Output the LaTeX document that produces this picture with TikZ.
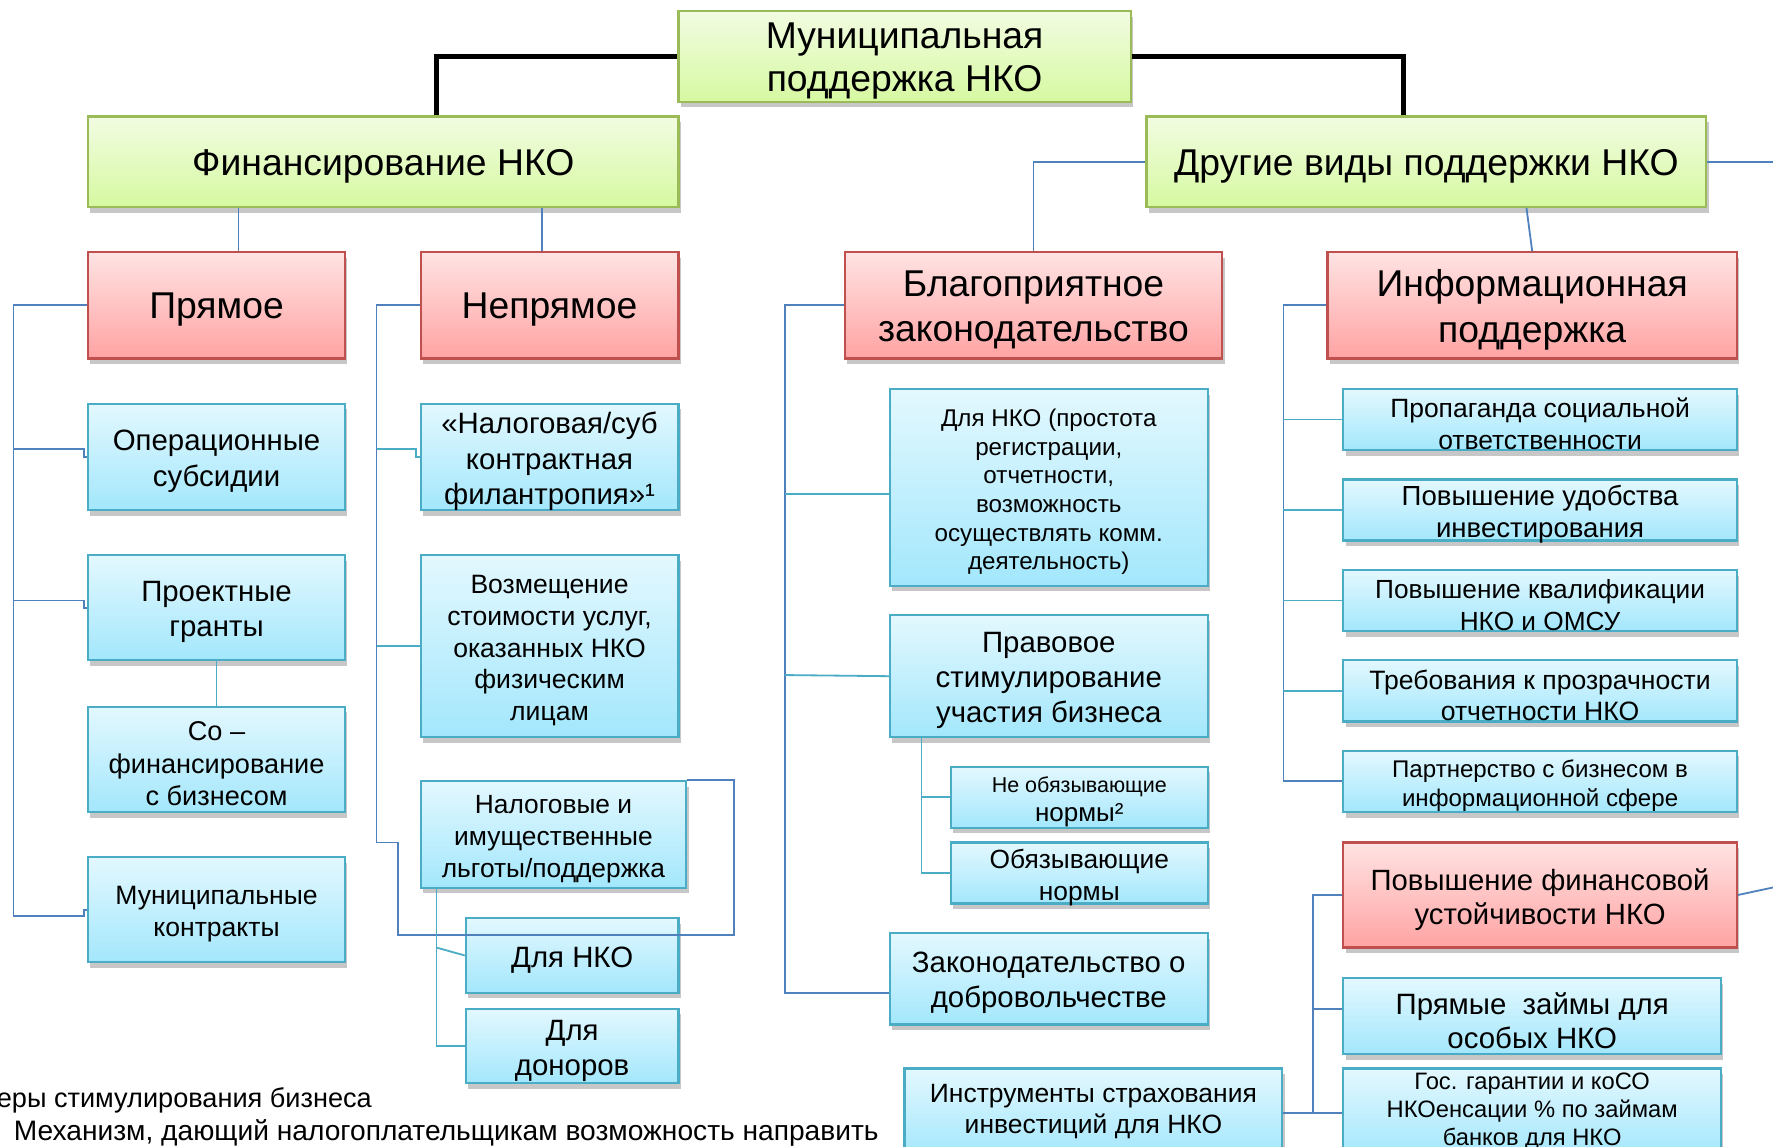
\documentclass[tikz,border=0pt]{standalone}
\usepackage{fontspec}
\setmainfont{Liberation Sans}
\usetikzlibrary{shadows}
\definecolor{gtop}{HTML}{F2FCE2}
\definecolor{gbot}{HTML}{D6F9A1}
\definecolor{gdr}{HTML}{9BBB59}
\definecolor{rtop}{HTML}{FFE3E3}
\definecolor{rbot}{HTML}{FFA3A3}
\definecolor{rdr}{HTML}{C0504D}
\definecolor{btop}{HTML}{E3F8FE}
\definecolor{bbot}{HTML}{A3E7FC}
\definecolor{bdr}{HTML}{4BACC6}
\definecolor{lnb}{HTML}{4F81BD}
\definecolor{lnt}{HTML}{4BACC6}
\newcommand\fz[2]{\fontsize{#1}{#2}\selectfont}
\tikzset{
  shd/.style={drop shadow={shadow xshift=2pt,shadow yshift=-5pt,fill=black,opacity=0.22}},
  basebox/.style={shd,inner sep=0pt,line width=2pt},
  gbox/.style={basebox,draw=gdr,top color=gtop,bottom color=gbot},
  rbox/.style={basebox,draw=rdr,top color=rtop,bottom color=rbot},
  bbox/.style={basebox,draw=bdr,top color=btop,bottom color=bbot},
  txt/.style={align=center,inner sep=0pt},
  blk/.style={line width=4pt,black},
  cb/.style={line width=1.6pt,lnb},
  ct/.style={line width=1.6pt,lnt},
}
% box node (name) plus its text node (name t), text centred 4pt lower
\newcommand\bx[8]{%
  \node[#1,minimum width=#5,minimum height=#6] (#2) at (#3,#4) {};
  \node[txt,font=#7] (#2t) at (#3,#4+4) {#8};}
\begin{document}
\begin{tikzpicture}[x=1pt,y=-1pt]
\useasboundingbox (0,0) rectangle (1568,1014);
\clip (0,0) rectangle (1568,1014);
% level 0-1
\bx{gbox}{top}{800}{50}{400}{80}{\fz{33}{38}}{Муниципальная\\поддержка НКО}
\bx{gbox}{fin}{339}{143}{522}{80}{\fz{33}{38}}{Финансирование НКО}
\bx{gbox}{oth}{1261.5}{143}{495}{80}{\fz{33}{38}}{Другие виды поддержки НКО}
% red level
\bx{rbox}{pr}{191.5}{270}{227}{94}{\fz{33}{40}}{Прямое}
\bx{rbox}{np}{486}{270}{228}{94}{\fz{33}{40}}{Непрямое}
\bx{rbox}{bl}{914}{270}{334}{94}{\fz{33}{40}}{Благоприятное\\законодательство}
\bx{rbox}{inf}{1355}{270}{362}{94}{\fz{33}{40}}{Информационная\\поддержка}
% direct column
\bx{bbox}{op}{191.5}{404}{227}{94}{\fz{26}{32}}{Операционные\\субсидии}
\bx{bbox}{pg}{191.5}{537.5}{227}{93}{\fz{26}{31}}{Проектные\\гранты}
\bx{bbox}{co}{191.5}{671.5}{227}{93}{\fz{24}{29}}{Со –\\финансирование\\с бизнесом}
\bx{bbox}{mk}{191.5}{804.5}{227}{93}{\fz{23.5}{28}}{Муниципальные\\контракты}
% indirect column
\bx{bbox}{nf}{486}{404}{228}{94}{\fz{26}{31.5}}{«Налоговая/суб\\контрактная\\филантропия»¹}
\bx{bbox}{vz}{486}{571.5}{228}{161}{\fz{23.5}{28}}{Возмещение\\стоимости услуг,\\оказанных НКО\\физическим\\лицам}
\bx{bbox}{nl}{489.5}{738}{235}{94}{\fz{23.3}{28.5}}{Налоговые и\\имущественные\\льготы/поддержка}
\bx{bbox}{dn}{506}{845}{188}{66}{\fz{26}{31}}{Для НКО}
\bx{bbox}{dd}{506}{925}{188}{66}{\fz{26}{31}}{Для\\доноров}
% legislation column
\bx{bbox}{dnk}{927.5}{431}{281}{174}{\fz{21.4}{25.4}}{Для НКО (простота\\регистрации,\\отчетности,\\возможность\\осуществлять комм.\\деятельность)}
\bx{bbox}{ps}{927.5}{598}{281}{108}{\fz{26}{31}}{Правовое\\стимулирование\\участия бизнеса}
\bx{bbox}{ne}{954.5}{705}{227}{54}{\fz{19}{26}}{Не обязывающие\\{\fz{23}{26}нормы²}}
\bx{bbox}{ob}{954.5}{772}{227}{54}{\fz{23.3}{28}}{Обязывающие\\нормы}
\bx{bbox}{zd}{927.5}{865.5}{281}{81}{\fz{26}{31}}{Законодательство о\\добровольчестве}
% info column
\bx{bbox}{i1}{1362}{371}{348}{54}{\fz{23.4}{28}}{Пропаганда социальной\\ответственности}
\bx{bbox}{i2}{1362}{451}{348}{54}{\fz{24.4}{28}}{Повышение удобства\\инвестирования}
\bx{bbox}{i3}{1362}{531}{348}{54}{\fz{23.2}{28}}{Повышение квалификации\\НКО и ОМСУ}
\bx{bbox}{i4}{1362}{611}{348}{54}{\fz{23.5}{28}}{Требования к прозрачности\\отчетности НКО}
\bx{bbox}{i5}{1362}{691}{348}{54}{\fz{21.3}{26}}{Партнерство с бизнесом в\\информационной сфере}
% financial sustainability
\bx{rbox}{pf}{1362}{791.5}{348}{93}{\fz{25.9}{30}}{Повышение финансовой\\устойчивости НКО}
\bx{bbox}{pz}{1355}{898.5}{334}{67}{\fz{26}{30}}{Прямые\ \ займы для\\особых НКО}
\node[bbox,minimum width=334,minimum height=78] (gg) at (1355,984) {};
\node[txt,font=\fz{21}{25}] (ggt) at (1355,983) {Гос. гарантии и коСО\\НКОенсации \% по займам\\банков для НКО};
\node[bbox,minimum width=334,minimum height=78] (is) at (967,984) {};
\node[txt,font=\fz{23.4}{28}] (ist) at (967,983) {Инструменты страхования\\инвестиций для НКО};
% footnotes
\node[anchor=west,inner sep=0pt,font=\fz{24}{28}] (fn1) at (-3,973) {еры стимулирования бизнеса};
\node[anchor=west,inner sep=0pt,font=\fz{24.9}{28}] (fn2) at (12,1002) {Механизм, дающий налогоплательщикам возможность направить};
% coordinates for free ends
\coordinate (offA) at (1600,143);
\coordinate (offB) at (1600,778);
% black connectors
\draw[blk] (top.west) -| (fin.north -| 386,0);
\draw[blk] (top.east) -| (oth.north -| 1241,0);
% blue connectors level 1
\draw[cb] (fin.south -| 211,0) -- (pr.north -| 211,0);
\draw[cb] (fin.south -| 479,0) -- (np.north -| 479,0);
\draw[cb] (oth.west) -| (bl.north);
\draw[cb] (oth.south -| 1350,0) -- (inf.north -| 1355,0);
\draw[cb] (oth.east) -- (offA);
\draw[cb] (pf.east) -- (offB);
% direct
\draw[cb] (pr.west) -| (12,810) -- (74,810) |- (mk.west);
\draw[cb] (12,397) -- (74,397) |- (op.west);
\draw[cb] (12,531) -- (74,531) |- (pg.west);
\draw[ct] (pg.south) -- (co.north);
% indirect
\draw[cb] (np.west) -| (333,745) -- (352,745) |- (649,827) |- (nl.north east);
\draw[ct] (333,397) -- (368,397) |- (nf.west);
\draw[ct] (333,571) -- (368,571) |- (vz.west);
\draw[ct] (nl.south -| 386,0) |- (dd.west);
\draw[ct] (386,838) -- (dn.west);
% legislation
\draw[cb] (bl.west) -| (694,878) -- (zd.west |- 0,878);
\draw[ct] (694,437) -- (dnk.west |- 0,437);
\draw[ct] (694,597) -- (ps.west);
\draw[ct] (ps.south -| 815,0) |- (ob.west);
\draw[ct] (815,705) -- (ne.west);
% info
\draw[cb] (inf.west) -| (1135,691) -- (i5.west);
\draw[ct] (1135,371) -- (i1.west);
\draw[ct] (1135,451) -- (i2.west);
\draw[ct] (1135,531) -- (i3.west);
\draw[ct] (1135,611) -- (i4.west);
% financial
\draw[cb] (pf.west) -| (1161,984) -- (gg.west);
\draw[cb] (is.east) -- (gg.west);
\draw[cb] (1161,892) -- (pz.west |- 0,892);
\end{tikzpicture}
\end{document}
